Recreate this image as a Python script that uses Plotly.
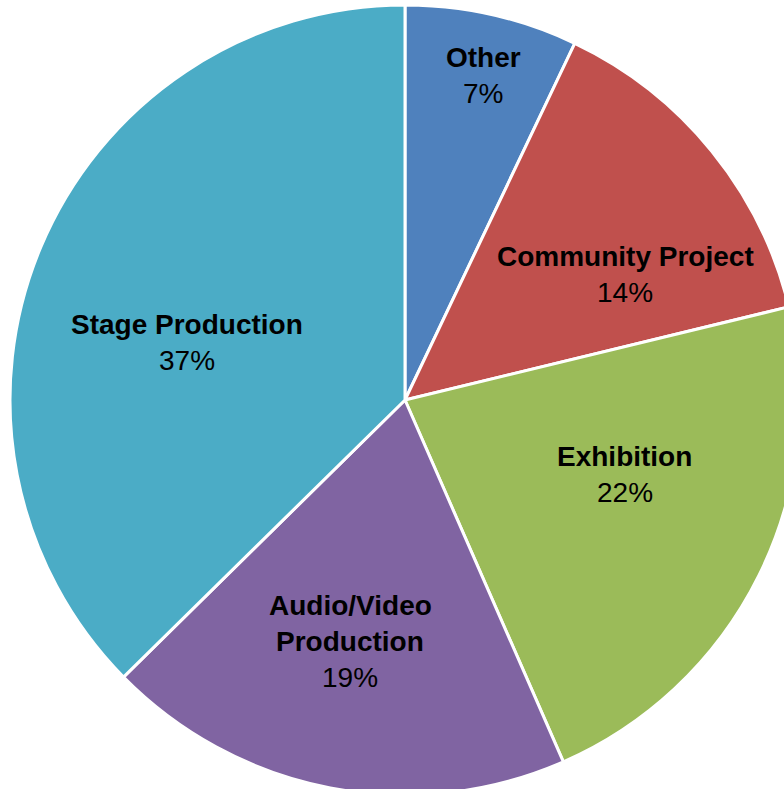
import math
import plotly.graph_objects as go

# Share of projects by category (percent)
categories = ["Other", "Community Project", "Exhibition", "Audio/Video Production", "Stage Production"]
shares = [7, 14, 22, 19, 37]
colors = ["#4F81BD", "#C0504D", "#9BBB59", "#8064A2", "#4BACC6"]

# Label placement relative to each slice: (radius fraction, angle nudge in degrees)
label_place = [(0.846, 0.8), (0.642, 9.3), (0.588, -7.6), (0.628, 1.9), (0.570, -8.0)]

W, H = 810, 800
CX, CY, R = 405, 400, 395          # pie centre and radius in pixels
LINE = 36                           # label line spacing in pixels
FONT = "Liberation Sans, Arial, sans-serif"

fig = go.Figure(
    go.Pie(
        labels=categories,
        values=shares,
        sort=False,
        direction="clockwise",
        rotation=0,
        marker=dict(colors=colors, line=dict(color="white", width=3)),
        textinfo="none",
        hoverinfo="label+percent",
        showlegend=False,
        domain=dict(x=[(CX - R) / W, (CX + R) / W], y=[(H - CY - R) / H, (H - CY + R) / H]),
    )
)

# Category and percentage labels, placed along each slice's bisector
total = sum(shares)
cum = 0
for name, val, (rf, nudge) in zip(categories, shares, label_place):
    mid = (cum + val / 2) / total * 360 + nudge
    cum += val
    px = CX + rf * R * math.sin(math.radians(mid))
    py = CY - rf * R * math.cos(math.radians(mid))
    lines = [(f"<b>{t}</b>") for t in name.replace("Audio/Video ", "Audio/Video\n").split("\n")]
    lines.append(f"{round(val / total * 100)}%")
    n = len(lines)
    for i, txt in enumerate(lines):
        fig.add_annotation(
            x=px / W,
            y=1 - py / H,
            xref="paper",
            yref="paper",
            text=txt,
            showarrow=False,
            xanchor="center",
            yanchor="middle",
            yshift=((n - 1) / 2 - i) * LINE,
            font=dict(family=FONT, size=28, color="black"),
        )

fig.update_layout(
    width=W,
    height=H,
    margin=dict(l=0, r=0, t=0, b=0),
    paper_bgcolor="white",
    plot_bgcolor="white",
)

fig.write_html("out.html")
